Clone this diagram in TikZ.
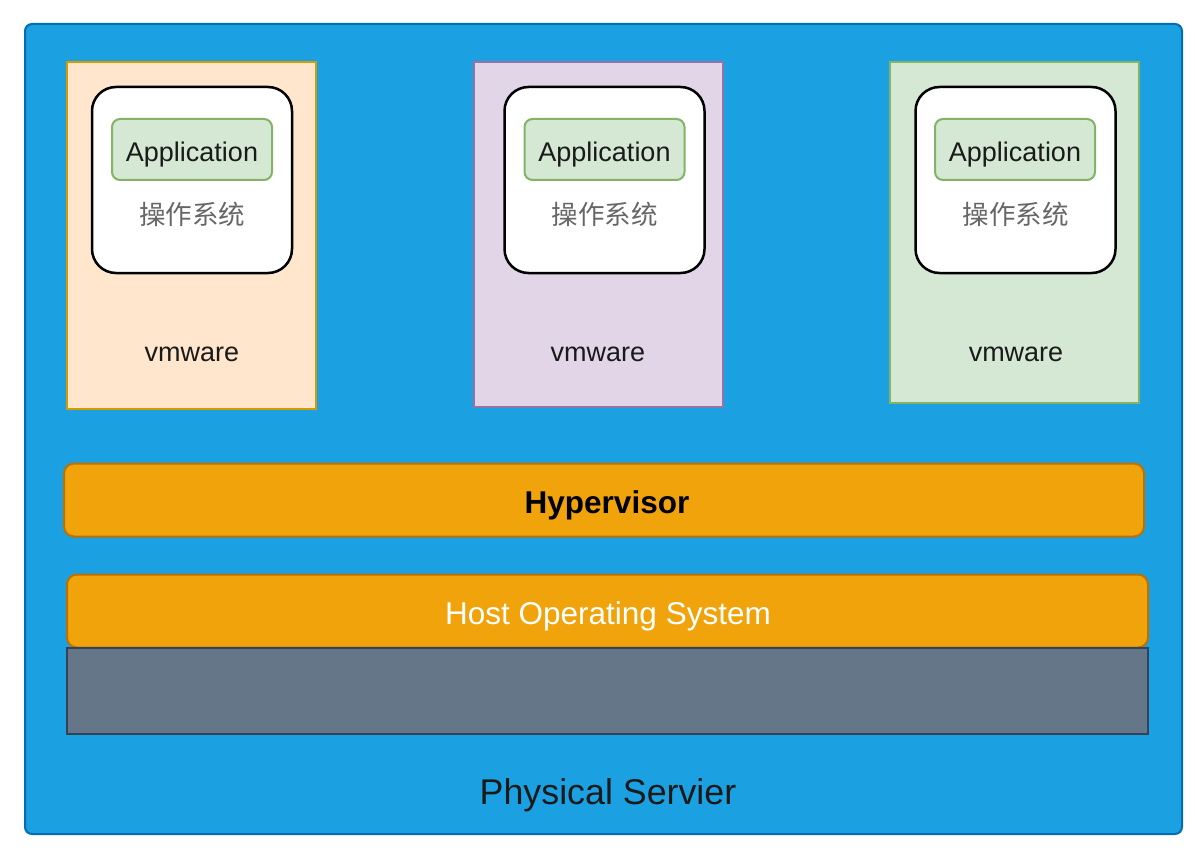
\documentclass[tikz,border=0pt]{standalone}
\usepackage{fontspec}
\setmainfont{Liberation Sans}
\newfontfamily\cjk{Noto Sans CJK SC}
\definecolor{srvfill}{HTML}{1BA1E2}
\definecolor{srvline}{HTML}{006EAF}
\definecolor{vmAfill}{HTML}{FFE6CC}
\definecolor{vmAline}{HTML}{D79B00}
\definecolor{vmBfill}{HTML}{E1D5E7}
\definecolor{vmBline}{HTML}{9673A6}
\definecolor{vmCfill}{HTML}{D5E8D4}
\definecolor{vmCline}{HTML}{82B366}
\definecolor{orfill}{HTML}{F0A30A}
\definecolor{orline}{HTML}{BD7000}
\definecolor{hwfill}{HTML}{647687}
\definecolor{hwline}{HTML}{314354}
\definecolor{ostext}{HTML}{666666}
\definecolor{dark}{HTML}{1A1A1A}
\tikzset{
  box/.style={draw, inner sep=0pt, outer sep=0pt},
  server/.style={box, fill=srvfill, draw=srvline, line width=2pt, rounded corners=7pt},
  vmbox/.style={box, line width=2pt, minimum width=249pt},
  vmlabel/.style={text=dark, font=\fontsize{27}{32}\selectfont},
  osbox/.style={box, fill=white, draw=black, line width=2.5pt, rounded corners=24pt, minimum width=200pt, minimum height=186pt},
  appbox/.style={box, fill=vmCfill, draw=vmCline, line width=2pt, rounded corners=8pt, minimum width=160pt, minimum height=61pt},
  applabel/.style={text=dark, font=\fontsize{27}{32}\selectfont},
  ostxt/.style={text=ostext, font=\cjk\fontsize{26.5}{30}\selectfont},
  bar/.style={box, fill=orfill, draw=orline, line width=2pt, rounded corners=10pt, minimum height=73pt},
  hw/.style={box, fill=hwfill, draw=hwline, line width=2pt, minimum width=1081pt, minimum height=86pt}
}
\begin{document}
\begin{tikzpicture}[x=1pt,y=-1pt]
\useasboundingbox (0,0) rectangle (1195,848);
\fill[white] (0,0) rectangle (1195,848);
% physical server
\node[server, minimum width=1157pt, minimum height=810pt] (srv) at (603.5,429) {};
% VMs
\node[vmbox, fill=vmAfill, draw=vmAline, minimum height=347pt] (vm1) at (191.5,235.5) {};
\node[vmbox, fill=vmBfill, draw=vmBline, minimum height=345pt] (vm2) at (598.5,234.5) {};
\node[vmbox, fill=vmCfill, draw=vmCline, minimum height=341pt] (vm3) at (1014.5,232.5) {};
\node[vmlabel] (vm1l) at (192,354.5) {vmware};
\node[vmlabel] (vm2l) at (598,354.5) {vmware};
\node[vmlabel] (vm3l) at (1016,354.5) {vmware};
% guest OS
\node[osbox] (os1) at (192,180) {};
\node[osbox] (os2) at (604.5,180) {};
\node[osbox] (os3) at (1015.5,180) {};
\node[appbox] (app1) at (192,149.5) {};
\node[appbox] (app2) at (604.5,149.5) {};
\node[appbox] (app3) at (1015,149.5) {};
\node[applabel] (app1l) at (192,155) {Application};
\node[applabel] (app2l) at (604.5,155) {Application};
\node[applabel] (app3l) at (1015,155) {Application};
\node[ostxt] (os1l) at (192,214) {操作系统};
\node[ostxt] (os2l) at (604.5,214) {操作系统};
\node[ostxt] (os3l) at (1015.5,214) {操作系统};
% hypervisor
\node[bar, minimum width=1080pt] (hyp) at (604,500) {};
\node[font=\bfseries\fontsize{31.5}{36}\selectfont, text=black] (hypl) at (607,505) {Hypervisor};
% host OS + hardware
\node[bar, minimum width=1081pt] (host) at (607.5,611) {};
\node[font=\fontsize{31.5}{36}\selectfont, text=white] (hostl) at (608,616.5) {Host Operating System};
\node[hw] (hard) at (607.5,691) {};
\node[text=dark, font=\fontsize{35.8}{40}\selectfont] (srvl) at (608,795) {Physical Servier};
\end{tikzpicture}
\end{document}
